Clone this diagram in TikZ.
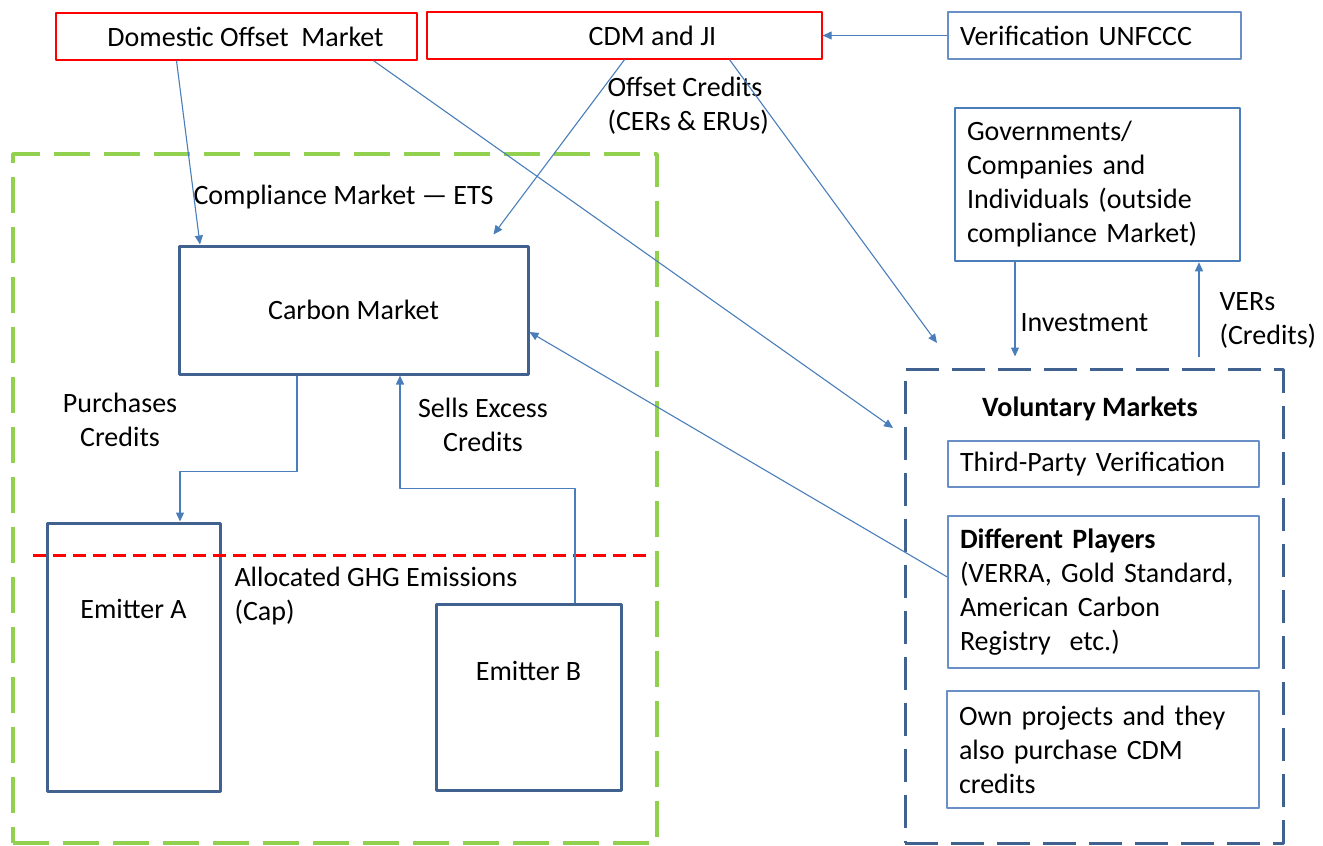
\documentclass[tikz,border=0pt]{standalone}
\usepackage{fontspec}
\setmainfont{Carlito}
\usetikzlibrary{arrows.meta}
\definecolor{offsetred}{HTML}{FF0000}
\definecolor{linkblue}{HTML}{4A7EBB}
\definecolor{boxblue}{HTML}{6A8FC7}
\definecolor{darkblue}{HTML}{41618F}
\definecolor{capgreen}{HTML}{92D050}
\begin{document}
\begin{tikzpicture}[x=1pt,y=-1pt,line join=round,font=\fontsize{28}{34}\selectfont,
	redbox/.style={draw=offsetred,line width=1.3pt,minimum height=47pt},
	thinbox/.style={draw=boxblue,line width=1.5pt,align=left,inner xsep=12pt},
	heavybox/.style={draw=darkblue,line width=3pt},
	link/.style={draw=linkblue,line width=1.1pt,-{Triangle[width=8pt,length=9pt]}}]
	\useasboundingbox (0,0) rectangle (1323,846);
	% top row
	\node[redbox,minimum width=361pt,label={[xshift=9pt]center:Domestic Offset\ \ Market}] (dom) at (236.5,36.5) {};
	\node[redbox,minimum width=395pt,label={[xshift=28pt]center:CDM and JI}] (cdm) at (624.5,35.5) {};
	\node[thinbox,text width=269pt,minimum height=47pt] (ver) at (1094.5,35.5) {Verification UNFCCC};
	\node[thinbox,draw=linkblue,line width=2.5pt,text width=261pt,minimum height=153pt] (gov) at (1097.5,184.5)
		{Governments/\\Companies and\\Individuals (outside\\compliance Market)};
	% compliance side
	\node[draw=capgreen,line width=3.5pt,dash pattern=on 36pt off 14pt,minimum width=644pt,minimum height=689pt] (ets) at (335,498.5) {};
	\node[heavybox,minimum width=349pt,minimum height=128pt] (cm) at (353.5,310) {Carbon Market};
	\node[heavybox,minimum width=173pt,minimum height=268pt,label={[anchor=center,yshift=-87pt]north:Emitter A}] (emA) at (133.5,657) {};
	\node[heavybox,minimum width=185pt,minimum height=186pt,label={[anchor=center,yshift=-68pt]north:Emitter B}] (emB) at (528.5,697) {};
	\draw[offsetred,line width=3pt,dash pattern=on 13pt off 7pt] (33,555) -- (650,555);
	\node[anchor=west] (etslbl) at (190,197) {Compliance Market --- ETS};
	\node[align=center] (buy) at (120,420) {Purchases\\Credits};
	\node[align=center] (sell) at (483,425) {Sells Excess\\Credits};
	\node[anchor=west,align=left] (cap) at (231,596) {Allocated GHG Emissions\\(Cap)};
	\node[anchor=west,align=left] (offs) at (604,106) {Offset Credits\\(CERs \& ERUs)};
	% voluntary side
	\node[heavybox,dash pattern=on 33pt off 13pt,minimum width=378pt,minimum height=474pt] (vol) at (1094,606) {};
	\node[font=\fontsize{28}{34}\selectfont\bfseries] (vollbl) at (1090,409) {Voluntary Markets};
	\node[thinbox,text width=287pt,minimum height=46pt] (tpv) at (1103.5,464) {Third-Party Verification};
	\node[thinbox,text width=287pt,minimum height=152pt] (dp) at (1103.5,592)
		{\textbf{Different Players}\\(VERRA, Gold Standard,\\American Carbon\\Registry\ \ etc.)};
	\node[thinbox,text width=288pt,minimum height=117pt] (own) at (1103,749.5)
		{Own projects and they\\also purchase CDM\\credits};
	\node[anchor=west] (invlbl) at (1017,323) {Investment};
	\node[anchor=west,align=left] (verlbl) at (1216,320) {VERs\\(Credits)};
	\coordinate (volin) at (893,428);
	\coordinate (volcorner) at (937,343);
	% connectors
	\draw[link] (ver) -- (cdm);
	\draw[link] ([xshift=-60pt]dom.south) -- ([xshift=-153.5pt]cm.north);
	\draw[link] ([xshift=137pt]dom.south) -- (volin);
	\draw[link] (cdm.south) -- ([xshift=140pt,yshift=10pt]cm.north);
	\draw[link] ([xshift=105pt]cdm.south) -- (volcorner);
	\draw[link] ([yshift=15pt]dp.west) -- ([yshift=-22pt]cm.east);
	\draw[link] ([xshift=-82.5pt]gov.south) -- ([xshift=-79pt,yshift=11pt]vol.north);
	\draw[link] ([xshift=105pt,yshift=11pt]vol.north) -- ([xshift=101.5pt]gov.south);
	\draw[link] ([xshift=-56.5pt]cm.south) -- ++(0,96) -| ([xshift=46.5pt]emA.north);
	\draw[link] ([xshift=46.5pt]emB.north) -- ++(0,-114) -| ([xshift=46.5pt]cm.south);
\end{tikzpicture}
\end{document}
